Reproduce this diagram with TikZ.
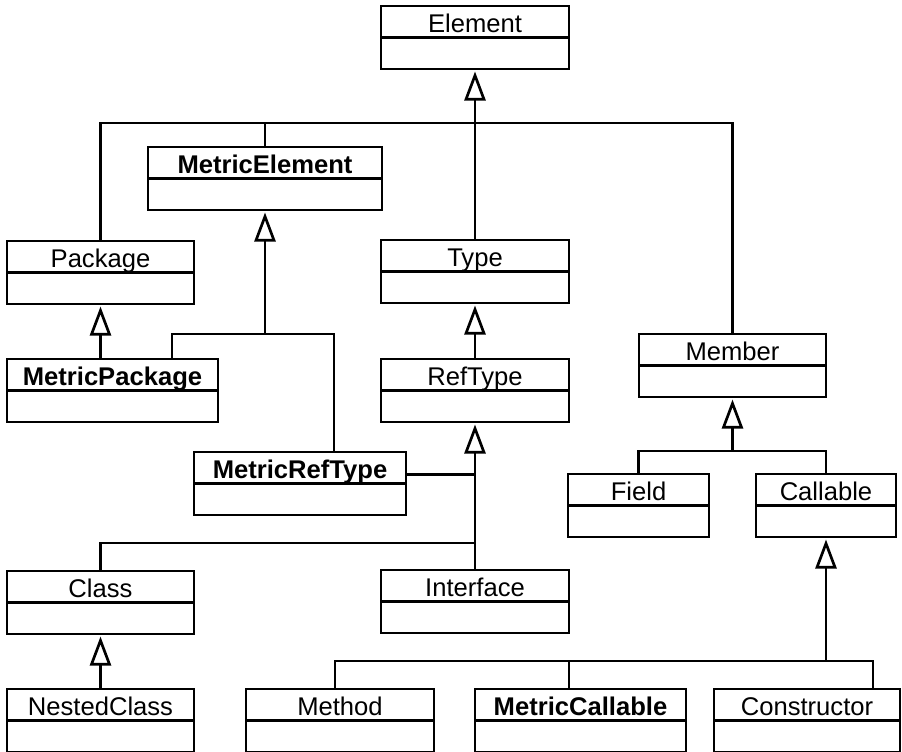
\documentclass[tikz,border=0pt]{standalone}
\usepackage{fontspec}
\setmainfont{Liberation Sans}
\usetikzlibrary{arrows.meta}

% A UML class box: name, left x, top y, right x, label
\newcommand{\umlclass}[5]{%
  \node[classbox, minimum width={(#4-#2)*1pt}] (#1) at (#2,#3) {};
  \node[classname] (#1-name) at ([yshift=-26.5pt]#1.north) {#5};
}

\begin{document}
\begin{tikzpicture}[x=1pt, y=-1pt, line width=2.7pt,
  classbox/.style={draw, rectangle, anchor=north west, minimum height=63pt,
    inner sep=0pt, outer sep=0pt,
    path picture={\draw[line width=2.7pt]
      ([yshift=-31.5pt]path picture bounding box.north west) --
      ([yshift=-31.5pt]path picture bounding box.north east);}},
  classname/.style={anchor=base, inner sep=0pt, font=\fontsize{25.6}{30}\selectfont},
  gen/.style={-{Triangle[open, length=29pt, width=21pt, line width=2.7pt]}, shorten >=2.5pt}
]
\useasboundingbox (0,0) rectangle (902,752);

% classes
\umlclass{Element}{381}{6}{569}{Element}
\umlclass{MetricElement}{148}{147}{382}{\bfseries MetricElement}
\umlclass{Package}{7}{241}{194}{Package}
\umlclass{Type}{381}{240}{569}{Type}
\umlclass{MetricPackage}{7}{359}{218}{\bfseries MetricPackage}
\umlclass{RefType}{381}{359}{569}{RefType}
\umlclass{Member}{639}{334}{826}{Member}
\umlclass{MetricRefType}{194}{452}{406}{\bfseries MetricRefType}
\umlclass{Field}{568}{474}{709}{Field}
\umlclass{Callable}{756}{474}{896}{Callable}
\umlclass{Class}{7}{571}{194}{Class}
\umlclass{Interface}{381}{570}{569}{Interface}
\umlclass{NestedClass}{7}{689}{194}{NestedClass}
\umlclass{Method}{246}{689}{434}{Method}
\umlclass{MetricCallable}{475}{689}{686}{\bfseries MetricCallable}
\umlclass{Constructor}{714}{689}{900}{Constructor}

% junction points of the generalization trees
\coordinate (eJ) at (475,123);
\coordinate (meJ) at (265,334);
\coordinate (rtJ) at (475,543);
\coordinate (mJ) at (732,451);
\coordinate (cJ) at (826,661);

% Element
\draw[gen] (Type.north) -- (Element.south);
\draw (Package.north) |- (Member.north |- eJ) -- (Member.north);
\draw (MetricElement.north) -- (MetricElement.north |- eJ);

% MetricElement
\draw[gen] (MetricElement.south |- meJ) -- (MetricElement.south);
\draw ([xshift=-46pt]MetricPackage.north east) |- ([xshift=34pt]MetricRefType.north |- meJ)
  -- ([xshift=34pt]MetricRefType.north);

% Package
\draw[gen] (Package.south |- MetricPackage.north) -- (Package.south);

% Type
\draw[gen] (RefType.north) -- (Type.south);

% RefType
\draw[gen] (Interface.north) -- (RefType.south);
\draw ([yshift=9pt]MetricRefType.east) -- ([yshift=9pt]MetricRefType.east -| RefType.south);
\draw (Class.north) |- (rtJ);

% Member
\draw[gen] (Member.south |- mJ) -- (Member.south);
\draw (Field.north) |- (Callable.north |- mJ) -- (Callable.north);

% Callable
\draw[gen] (Callable.south |- cJ) -- (Callable.south);
\draw ([xshift=-5pt]Method.north) |- ([xshift=-27pt]Constructor.north east |- cJ)
  -- ([xshift=-27pt]Constructor.north east);
\draw ([xshift=-11.5pt]MetricCallable.north) -- ([xshift=-11.5pt]MetricCallable.north |- cJ);

% Class
\draw[gen] (NestedClass.north) -- (Class.south);
\end{tikzpicture}
\end{document}
